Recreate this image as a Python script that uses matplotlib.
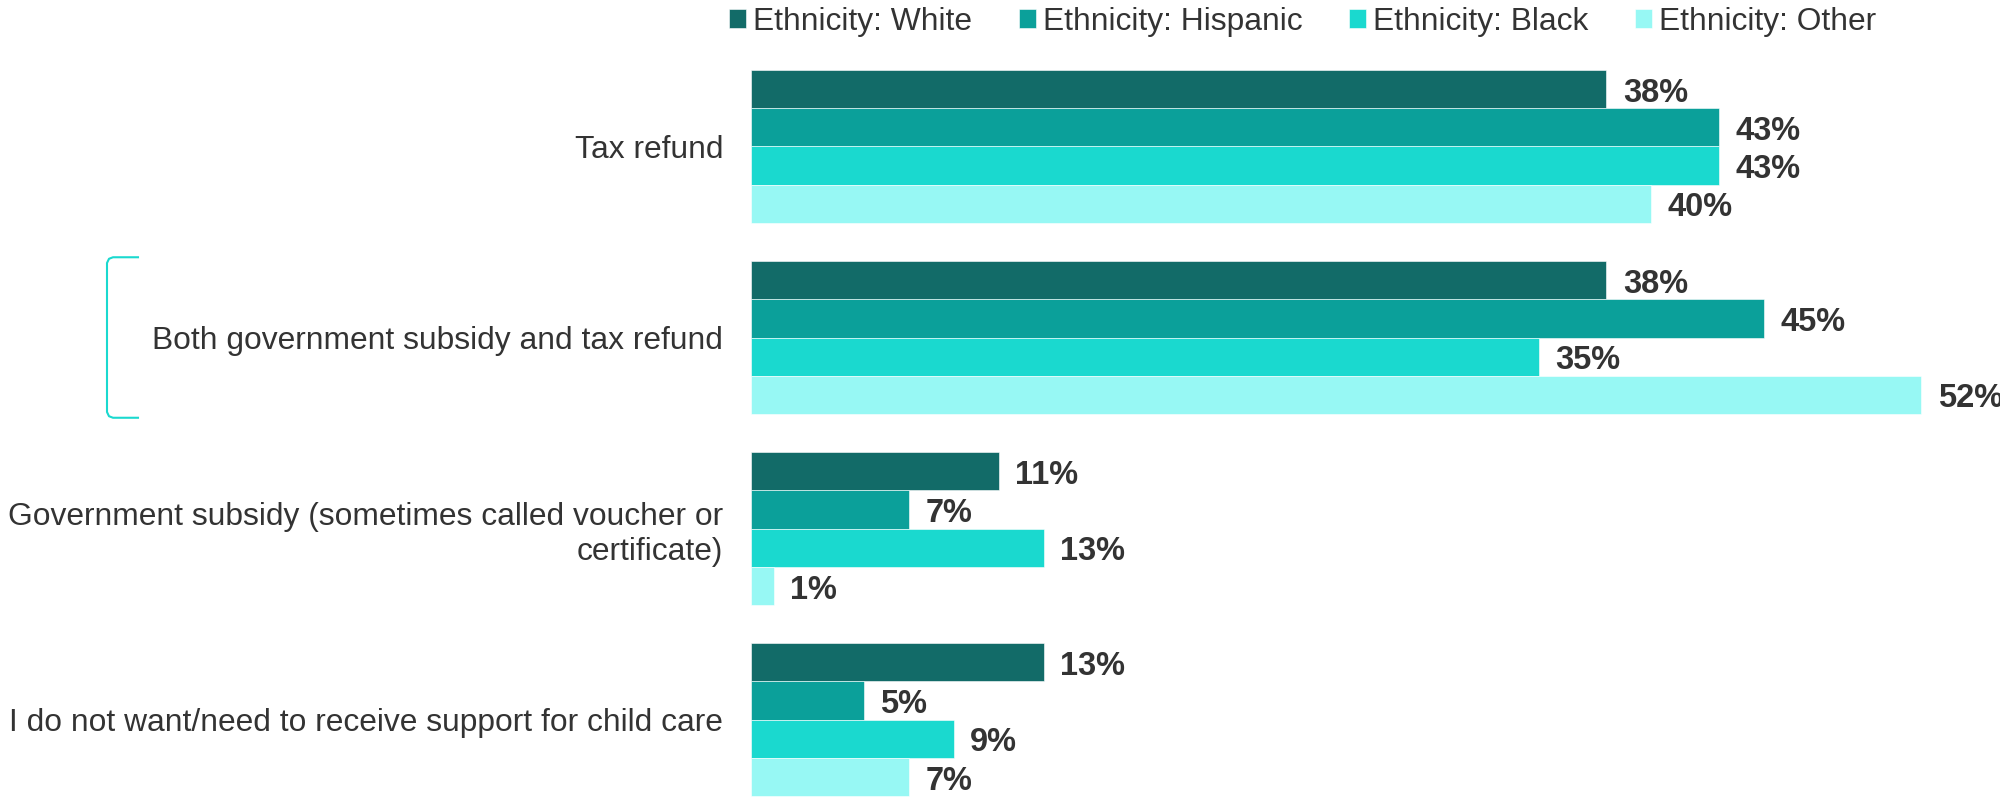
import numpy as np
import matplotlib
matplotlib.use("Agg")
import matplotlib.pyplot as plt
import matplotlib.transforms as mtransforms

plt.rcParams['font.family'] = ['Liberation Sans', 'DejaVu Sans']

categories = ["Tax refund",
              "Both government subsidy and tax refund",
              "Government subsidy (sometimes called voucher or\ncertificate)",
              "I do not want/need to receive support for child care"]
series = ["Ethnicity: White", "Ethnicity: Hispanic", "Ethnicity: Black", "Ethnicity: Other"]
white = [38, 38, 11, 13]
hispanic = [43, 45, 7, 5]
black = [43, 35, 13, 9]
other = [40, 52, 1, 7]
colors = ["#126B68", "#0BA09A", "#1AD9CF", "#97F8F4"]

values = [white, hispanic, black, other]
txt_col = "#333333"
fs = 22.9       # category labels and legend
fs_lab = 23.5   # value labels

fig = plt.figure(figsize=(20, 7.98), dpi=100)
ax = fig.add_axes([751/2000, 0, 1249/2000, 728/798])

y = np.arange(len(categories))
h = 0.2
for i, (name, vals, c) in enumerate(zip(series, values, colors)):
    pos = y - 0.3 + i*h
    bars = ax.barh(pos, vals, height=h, color=c, label=name,
                   edgecolor="#ffffff", linewidth=0.4)
    for b, v in zip(bars, vals):
        ax.annotate(f"{v}%", (b.get_width(), b.get_y() + b.get_height()/2),
                    xytext=(12, -3), textcoords="offset points",
                    ha="left", va="center", fontsize=fs_lab, fontweight="bold",
                    color=txt_col, annotation_clip=False)

ax.set_xlim(0, 55.5)
ax.set_ylim(3.41, -0.4)
ax.set_yticks(y)
ax.set_yticklabels(categories, fontsize=fs, color=txt_col)
ax.tick_params(axis="y", length=0, pad=20)
ax.set_xticks([])
for s in ax.spines.values():
    s.set_visible(False)

# bracket next to the second category
tr = mtransforms.blended_transform_factory(fig.transFigure, ax.transData)
x0, x1, xc = 107/2000, 138/2000, 113/2000
y0, y1 = 1 - 0.42, 1 + 0.42
ax.plot([x1, xc, x0 + 0.001, x0, x0, x0 + 0.001, xc, x1],
        [y0, y0, y0 + 0.008, y0 + 0.03, y1 - 0.03, y1 - 0.008, y1, y1],
        color="#1AD9CF", lw=1.5, transform=tr, clip_on=False)

leg = fig.legend(loc="center left", bbox_to_anchor=(729/2000, 1 - 22/798),
                 ncol=4, frameon=False, fontsize=fs, handlelength=0.55,
                 handleheight=0.55, handletextpad=0.22, columnspacing=1.45,
                 borderpad=0, borderaxespad=0)
for t in leg.get_texts():
    t.set_color(txt_col)

fig.savefig("out.png", dpi=100)
